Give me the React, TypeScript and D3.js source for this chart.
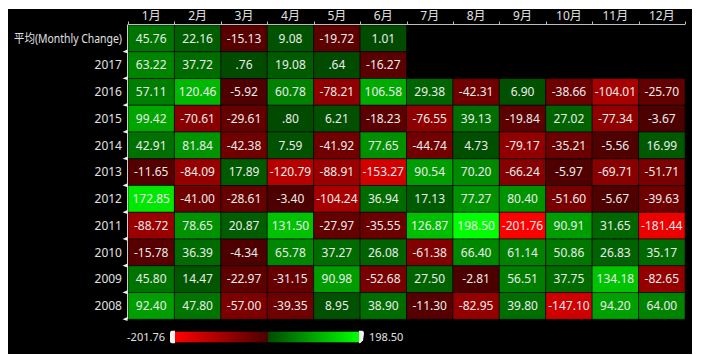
import React, { useEffect, useRef } from "react";
import * as d3 from "d3";

const months = ["1月", "2月", "3月", "4月", "5月", "6月", "7月", "8月", "9月", "10月", "11月", "12月"];
const rowLabels = ["平均(Monthly Change)", "2017", "2016", "2015", "2014", "2013", "2012", "2011", "2010", "2009", "2008"];

const avgRow = [45.76, 22.16, -15.13, 9.08, -19.72, 1.01];
const y2017 = [63.22, 37.72, 0.76, 19.08, 0.64, -16.27];
const y2016 = [57.11, 120.46, -5.92, 60.78, -78.21, 106.58, 29.38, -42.31, 6.9, -38.66, -104.01, -25.7];
const y2015 = [99.42, -70.61, -29.61, 0.8, 6.21, -18.23, -76.55, 39.13, -19.84, 27.02, -77.34, -3.67];
const y2014 = [42.91, 81.84, -42.38, 7.59, -41.92, 77.65, -44.74, 4.73, -79.17, -35.21, -5.56, 16.99];
const y2013 = [-11.65, -84.09, 17.89, -120.79, -88.91, -153.27, 90.54, 70.2, -66.24, -5.97, -69.71, -51.71];
const y2012 = [172.85, -41.0, -28.61, -3.4, -104.24, 36.94, 17.13, 77.27, 80.4, -51.6, -5.67, -39.63];
const y2011 = [-88.72, 78.65, 20.87, 131.5, -27.97, -35.55, 126.87, 198.5, -201.76, 90.91, 31.65, -181.44];
const y2010 = [-15.78, 36.39, -4.34, 65.78, 37.27, 26.08, -61.38, 66.4, 61.14, 50.86, 26.83, 35.17];
const y2009 = [45.8, 14.47, -22.97, -31.15, 90.98, -52.68, 27.5, -2.81, 56.51, 37.75, 134.18, -82.65];
const y2008 = [92.4, 47.8, -57.0, -39.35, 8.95, 38.9, -11.3, -82.95, 39.8, -147.1, 94.2, 64.0];

const rowsData = [avgRow, y2017, y2016, y2015, y2014, y2013, y2012, y2011, y2010, y2009, y2008];

const minVal = -201.76;
const maxVal = 198.5;

const fmt = (v: number) => v.toFixed(2).replace(/^(-?)0\./, "$1.");

export default function App() {
  const ref = useRef<SVGSVGElement | null>(null);

  useEffect(() => {
    const svg = d3.select(ref.current);
    svg.selectAll("*").remove();

    const left = 128, right = 685, top = 25, bottom = 319.3;
    const font = "'Noto Sans', 'Noto Sans CJK SC', sans-serif";

    svg.append("rect").attr("x", 8).attr("y", 9).attr("width", 684).attr("height", 345).attr("fill", "#000");

    const x = d3.scaleBand<string>().domain(months).range([left, right]).padding(0);
    const y = d3.scaleBand<string>().domain(rowLabels).range([top, bottom]).padding(0);

    const neg = d3.scaleLinear<string>().domain([minVal, 0]).range(["#ff0000", "#4a0000"]).clamp(true);
    const pos = d3.scaleLinear<string>().domain([0, maxVal]).range(["#004a00", "#00ff00"]).clamp(true);
    const color = (v: number) => (v < 0 ? neg(v) : pos(v));

    const cells: { r: string; m: string; v: number }[] = [];
    rowsData.forEach((row, i) => row.forEach((v, j) => cells.push({ r: rowLabels[i], m: months[j], v })));

    const g = svg.append("g");
    g.selectAll("rect.cell")
      .data(cells)
      .enter()
      .append("rect")
      .attr("x", (d) => x(d.m)!)
      .attr("y", (d) => y(d.r)!)
      .attr("width", x.bandwidth())
      .attr("height", y.bandwidth())
      .attr("fill", (d) => color(d.v))
      .attr("stroke", "rgba(0,0,0,0.55)")
      .attr("stroke-width", 1);

    g.selectAll("text.val")
      .data(cells)
      .enter()
      .append("text")
      .attr("x", (d) => x(d.m)! + x.bandwidth() / 2)
      .attr("y", (d) => y(d.r)! + y.bandwidth() / 2)
      .attr("dy", "0.36em")
      .attr("text-anchor", "middle")
      .attr("fill", "#ececec")
      .style("font-family", font)
      .style("font-size", "12px")
      .text((d) => fmt(d.v));

    // top axis
    const axT = svg.append("g");
    axT.append("line").attr("x1", left).attr("x2", right).attr("y1", 24.5).attr("y2", 24.5).attr("stroke", "#bdbdbd").attr("stroke-width", 1);
    const bounds = months.map((m) => x(m)!).concat([right]);
    axT.selectAll("line.tk").data(bounds).enter().append("line")
      .attr("x1", (d) => Math.round(d) + 0.5).attr("x2", (d) => Math.round(d) + 0.5)
      .attr("y1", 21.5).attr("y2", 24.5).attr("stroke", "#bdbdbd");
    axT.selectAll("text").data(months).enter().append("text")
      .attr("x", (d) => x(d)! + x.bandwidth() / 2)
      .attr("y", 20)
      .attr("text-anchor", "middle")
      .attr("fill", "#e0e0e0")
      .style("font-family", font)
      .style("font-size", "12px")
      .text((d) => d);

    // left axis
    const axL = svg.append("g");
    axL.append("line").attr("x1", 127.5).attr("x2", 127.5).attr("y1", 24.5).attr("y2", bottom).attr("stroke", "#d0d0d0");
    axL.selectAll("path.tri").data(rowLabels).enter().append("path")
      .attr("d", (d) => {
        const yy = y(d)! + y.bandwidth();
        return `M122.5,${yy} L127.5,${yy - 2.2} L127.5,${yy + 1.6} Z`;
      })
      .attr("fill", "#f0f0f0");
    axL.selectAll("text").data(rowLabels).enter().append("text")
      .attr("x", 122)
      .attr("y", (d) => y(d)! + y.bandwidth() / 2)
      .attr("dy", "0.36em")
      .attr("text-anchor", "end")
      .attr("fill", "#e0e0e0")
      .style("font-family", font)
      .style("font-size", "12px")
      .each(function (d) {
        if (d.length > 6) {
          d3.select(this).attr("textLength", 108).attr("lengthAdjust", "spacingAndGlyphs");
        }
      })
      .text((d) => d);

    // legend
    const lx0 = 175, lx1 = 359, ly = 331.7, lh = 10.6;
    const lg = d3.scaleLinear().domain([minVal, maxVal]).range([lx0, lx1]);
    const defs = svg.append("defs");
    const grad = defs.append("linearGradient").attr("id", "lgrad").attr("x1", "0%").attr("x2", "100%");
    const zeroPct = ((lg(0) - lx0) / (lx1 - lx0)) * 100;
    grad.append("stop").attr("offset", "0%").attr("stop-color", neg(minVal));
    grad.append("stop").attr("offset", `${zeroPct}%`).attr("stop-color", neg(-0.001));
    grad.append("stop").attr("offset", `${zeroPct}%`).attr("stop-color", pos(0));
    grad.append("stop").attr("offset", "100%").attr("stop-color", pos(maxVal));
    svg.append("rect").attr("x", lx0).attr("y", ly).attr("width", lx1 - lx0).attr("height", lh).attr("fill", "url(#lgrad)");

    // handles
    const hy0 = ly - 1, hy1 = ly + lh + 1;
    svg.append("path")
      .attr("d", `M${lx0},${hy0} L${lx0 - 3},${hy0} Q${lx0 - 5},${hy0} ${lx0 - 5},${hy0 + 3} L${lx0 - 5},${hy1 - 2} Q${lx0 - 5},${hy1} ${lx0 - 2},${hy1} L${lx0},${hy1} Z`)
      .attr("fill", "#f4f4f4");
    svg.append("path")
      .attr("d", `M${lx1},${hy0} L${lx1 + 3},${hy0} Q${lx1 + 5},${hy0} ${lx1 + 5},${hy0 + 3} L${lx1 + 4},${hy1 - 3} Q${lx1 + 2},${hy1} ${lx1},${hy1} Z`)
      .attr("fill", "#f4f4f4");

    svg.append("text").attr("x", 165).attr("y", ly + lh / 2).attr("dy", "0.36em").attr("text-anchor", "end")
      .attr("fill", "#e0e0e0").style("font-family", font).style("font-size", "11px").text(fmt(minVal));
    svg.append("text").attr("x", 369).attr("y", ly + lh / 2).attr("dy", "0.36em").attr("text-anchor", "start")
      .attr("fill", "#e0e0e0").style("font-family", font).style("font-size", "11px").text(fmt(maxVal));
  }, []);

  return (
    <svg
      ref={ref}
      width={703}
      height={355}
      style={{ position: "absolute", left: 0, top: 0, display: "block" }}
    />
  );
}
